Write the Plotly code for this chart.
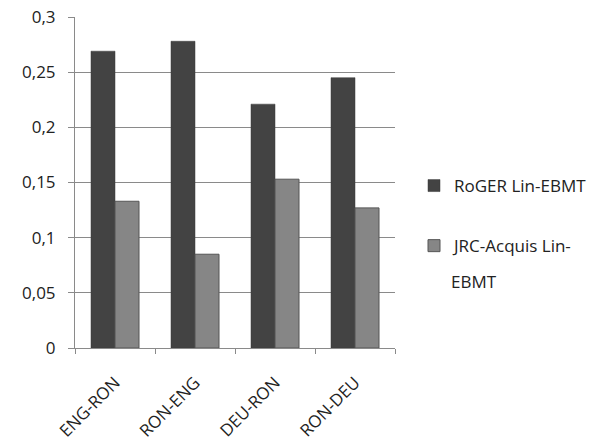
import plotly.graph_objects as go

categories = ["ENG-RON", "RON-ENG", "DEU-RON", "RON-DEU"]
roger = [0.269, 0.278, 0.221, 0.245]
jrc = [0.133, 0.085, 0.153, 0.127]
series_names = ["RoGER Lin-EBMT", "JRC-Acquis Lin-"]
legend_wrap = "EBMT"
y_ticks = [0, 0.05, 0.1, 0.15, 0.2, 0.25, 0.3]
y_labels = ["0", "0,05", "0,1", "0,15", "0,2", "0,25", "0,3"]

FONT = "Open Sans, Noto Sans, sans-serif"
fig = go.Figure()
fig.add_trace(go.Bar(x=categories, y=roger, name=series_names[0], legendgroup="a",
                     marker=dict(color="#434343", line=dict(color="#3a3a3a", width=0.5))))
fig.add_trace(go.Bar(x=categories, y=jrc, name=series_names[1], legendgroup="b",
                     marker=dict(color="#868686", line=dict(color="#555555", width=1))))

fig.add_annotation(text=legend_wrap, xref="paper", yref="paper",
                   x=(449 - 75) / 320, y=(348 - 281) / 331, xanchor="left", yanchor="middle",
                   showarrow=False, font=dict(size=17, family=FONT, color="#222222"))

fig.update_layout(
    width=595, height=446,
    margin=dict(l=75, r=200, t=17, b=98, autoexpand=False),
    paper_bgcolor="white", plot_bgcolor="white",
    barmode="group", bargap=0.4, bargroupgap=0,
    font=dict(family=FONT, size=17, color="#222222"),
    showlegend=True,
    legend=dict(x=(414 - 75) / 320, y=(348 - 168) / 331, xanchor="left", yanchor="top",
                traceorder="grouped", tracegroupgap=35, font=dict(size=17), itemwidth=30),
    xaxis=dict(showline=True, linecolor="#8a8a8a", linewidth=1, ticks="outside",
               tickson="boundaries", ticklen=5, tickcolor="#8a8a8a", tickangle=-45,
               showgrid=False, ticklabelstandoff=17, tickfont=dict(size=17),
               automargin=False),
    yaxis=dict(range=[0, 0.3], tickvals=y_ticks, ticktext=y_labels, showline=True,
               linecolor="#8a8a8a", linewidth=1, ticks="outside", ticklen=6,
               tickcolor="#8a8a8a", showgrid=True, gridcolor="#8a8a8a", gridwidth=1,
               zeroline=False, tickfont=dict(size=17), ticklabelstandoff=9,
               automargin=False),
)
fig.write_html("out.html")
